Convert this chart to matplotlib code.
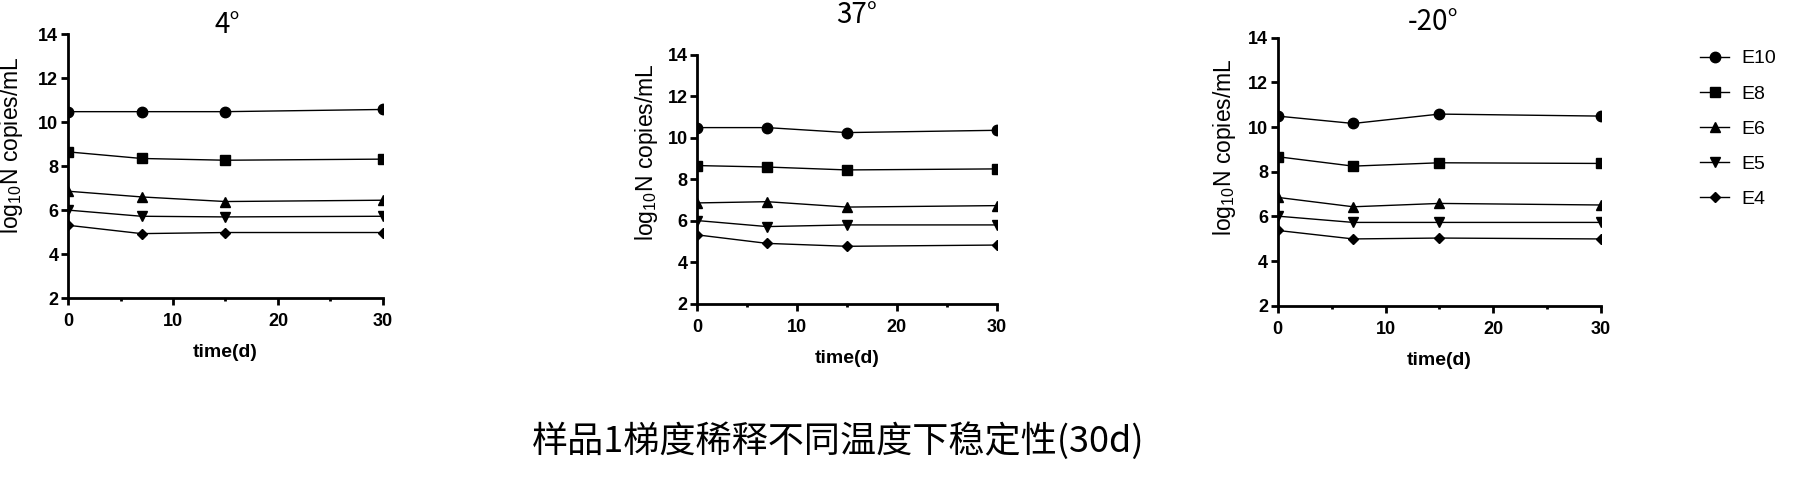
import matplotlib
matplotlib.use("Agg")
import matplotlib.pyplot as plt
from matplotlib.ticker import MultipleLocator

# sampling days
days = [0, 7, 15, 30]

series_names = ["E10", "E8", "E6", "E5", "E4"]
markers = ["o", "s", "^", "v", "D"]
marker_sizes = [7.5, 7, 7.5, 7.5, 5]

# log10 copies/mL at 4 degrees
t4_E10 = [10.48, 10.48, 10.48, 10.58]
t4_E8 = [8.65, 8.35, 8.27, 8.32]
t4_E6 = [6.86, 6.60, 6.39, 6.45]
t4_E5 = [6.00, 5.72, 5.69, 5.72]
t4_E4 = [5.31, 4.93, 4.98, 4.98]

# 37 degrees
t37_E10 = [10.50, 10.50, 10.26, 10.37]
t37_E8 = [8.67, 8.60, 8.46, 8.51]
t37_E6 = [6.87, 6.93, 6.67, 6.74]
t37_E5 = [6.02, 5.73, 5.81, 5.81]
t37_E4 = [5.33, 4.92, 4.78, 4.84]

# -20 degrees
tm20_E10 = [10.49, 10.16, 10.58, 10.49]
tm20_E8 = [8.67, 8.25, 8.40, 8.37]
tm20_E6 = [6.85, 6.43, 6.58, 6.51]
tm20_E5 = [6.01, 5.73, 5.73, 5.73]
tm20_E4 = [5.37, 4.99, 5.03, 4.99]

panel_titles = ["4°", "37°", "-20°"]
panel_data = [
    [t4_E10, t4_E8, t4_E6, t4_E5, t4_E4],
    [t37_E10, t37_E8, t37_E6, t37_E5, t37_E4],
    [tm20_E10, tm20_E8, tm20_E6, tm20_E5, tm20_E4],
]

# axes rectangles in figure fraction (left, bottom, width, height)
rects = [
    [0.0377, 0.4016, 0.1746, 0.5295],
    [0.3865, 0.3896, 0.1660, 0.5000],
    [0.7083, 0.3861, 0.1792, 0.5382],
]
title_pos = [(0.1258, 0.950), (0.4749, 0.970), (0.7944, 0.956)]
ylabel_pos = [(12, 145), (647, 152), (1224, 147)]  # pixels from top-left

fig = plt.figure(figsize=(18.04, 4.98), dpi=100)

for i in range(3):
    ax = fig.add_axes(rects[i])
    for j in range(5):
        ax.plot(days, panel_data[i][j], color="black", lw=1.0,
                marker=markers[j], ms=marker_sizes[j], label=series_names[j])
    ax.set_xlim(0, 30)
    ax.set_ylim(2, 14)
    ax.xaxis.set_major_locator(MultipleLocator(10))
    ax.xaxis.set_minor_locator(MultipleLocator(5))
    ax.yaxis.set_major_locator(MultipleLocator(2))
    for s in ["top", "right"]:
        ax.spines[s].set_visible(False)
    for s in ["left", "bottom"]:
        ax.spines[s].set_linewidth(2)
    ax.tick_params(which="major", length=5, width=2, direction="out")
    ax.tick_params(which="minor", length=2.5, width=2, direction="out")
    ax.tick_params(axis="x", pad=6)
    ax.tick_params(axis="y", pad=2)
    for lab in ax.get_xticklabels() + ax.get_yticklabels():
        lab.set_fontfamily("Liberation Sans")
        lab.set_fontweight("bold")
        lab.set_fontsize(13)
    ax.set_xlabel("time(d)", fontsize=14, fontweight="bold",
                  fontfamily="Liberation Sans", labelpad=10)
    ax.set_ylabel(r"log$_{\mathregular{10}}$N copies/mL", fontsize=16.5,
                  fontfamily="Liberation Sans")
    px, py = ylabel_pos[i]
    ax.yaxis.set_label_coords(px / 1804, 1 - py / 498, transform=fig.transFigure)
    ax.yaxis.label.set_verticalalignment("center")
    fig.text(title_pos[i][0], title_pos[i][1], panel_titles[i], fontsize=20,
             family=["Noto Sans CJK SC", "DejaVu Sans"], ha="center", va="center")
    if i == 0:
        handles, labels = ax.get_legend_handles_labels()

fig.legend(handles, labels, loc="center left", bbox_to_anchor=(0.9424, 0.7413),
           frameon=False, borderpad=0, borderaxespad=0, handlelength=1.5,
           handletextpad=0.6, labelspacing=0.9,
           prop={"family": "Liberation Sans", "size": 14})

fig.text(0.4648, 0.1145, "样品1梯度稀释不同温度下稳定性(30d)", fontsize=26,
         family=["Noto Sans CJK SC", "DejaVu Sans"], ha="center", va="center")

fig.savefig("out.png", dpi=100)
